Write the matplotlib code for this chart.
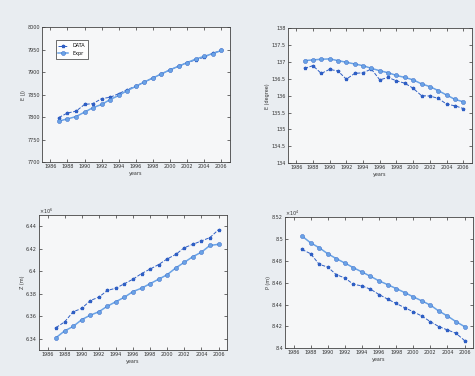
import matplotlib
matplotlib.use('Agg')
import matplotlib.pyplot as plt
from matplotlib.ticker import FuncFormatter

years = list(range(1987, 2007))
year_ticks = list(range(1986, 2007, 2))

# top left
e_data = [7799, 7809, 7813, 7828, 7830, 7841, 7844, 7852, 7861, 7869,
          7878, 7887, 7896, 7905, 7913, 7921, 7927, 7933, 7942, 7948]
e_expr = [7791, 7796, 7801, 7811, 7821, 7828, 7839, 7848, 7859, 7868,
          7878, 7887, 7896, 7905, 7913, 7921, 7929, 7935, 7941, 7948]

# top right
deg_expr = [137.04, 137.06, 137.08, 137.09, 137.04, 136.99, 136.94, 136.89, 136.81, 136.74,
            136.68, 136.60, 136.54, 136.47, 136.35, 136.27, 136.15, 136.02, 135.89, 135.82]
deg_data = [136.81, 136.89, 136.66, 136.78, 136.73, 136.49, 136.66, 136.68, 136.79, 136.47,
            136.54, 136.44, 136.37, 136.22, 136.00, 135.99, 135.92, 135.75, 135.70, 135.62]

# bottom left (x 1e6)
z_data = [6.350, 6.355, 6.364, 6.367, 6.374, 6.377, 6.383, 6.385, 6.389, 6.393,
          6.398, 6.402, 6.406, 6.411, 6.415, 6.421, 6.424, 6.427, 6.430, 6.437]
z_expr = [6.341, 6.347, 6.351, 6.357, 6.361, 6.364, 6.369, 6.373, 6.377, 6.382,
          6.385, 6.389, 6.393, 6.397, 6.403, 6.408, 6.413, 6.417, 6.423, 6.424]

# bottom right (x 1e4)
p_expr = [8.5027, 8.4966, 8.4921, 8.4866, 8.4821, 8.4781, 8.4738, 8.4699, 8.4659, 8.4617,
          8.4583, 8.4547, 8.4510, 8.4471, 8.4434, 8.4395, 8.4340, 8.4295, 8.4243, 8.4198]
p_data = [8.4905, 8.4866, 8.4769, 8.4744, 8.4674, 8.4644, 8.4586, 8.4571, 8.4541, 8.4492,
          8.4450, 8.4410, 8.4371, 8.4334, 8.4295, 8.4243, 8.4198, 8.4167, 8.4137, 8.4070]

dark = '#2f5fc4'
light = '#6aa3e6'
fs = 3.5

plt.rcParams['font.family'] = 'DejaVu Sans'
fig = plt.figure(figsize=(4.75, 3.76), dpi=100, facecolor='#e9edf1')

def style(ax, ylabel, yticks, ylim, fmt):
    ax.set_facecolor('#f6f7f8')
    ax.set_xlim(1985, 2007)
    ax.set_xticks(year_ticks)
    ax.set_ylim(*ylim)
    ax.set_yticks(yticks)
    ax.yaxis.set_major_formatter(FuncFormatter(fmt))
    ax.tick_params(direction='in', top=True, right=True, labelsize=fs,
                   length=2, width=0.5, colors='#333333', pad=1.5)
    ax.set_xlabel('years', fontsize=fs, labelpad=1, color='#333333')
    ax.set_ylabel(ylabel, fontsize=fs, labelpad=1, color='#333333')
    for s in ax.spines.values():
        s.set_linewidth(0.6)
        s.set_color('#444444')

def draw(ax, a, b):
    ax.plot(years, a, '--', color=dark, marker='*', ms=2.4, lw=0.7)
    ax.plot(years, b, '-', color=light, marker='o', ms=3.0, lw=1.1,
            mfc=light, mec=dark, mew=0.3)

ax1 = fig.add_axes([0.088, 0.569, 0.396, 0.359])
draw(ax1, e_data, e_expr)
style(ax1, 'E (J)', list(range(7700, 8001, 50)), (7700, 8000), lambda v, p: '%d' % v)
leg = ax1.legend(['DATA', 'Expr'], loc='upper left', fontsize=fs, frameon=True,
                 fancybox=False, edgecolor='black', borderpad=0.6,
                 handlelength=2, bbox_to_anchor=(0.06, 0.92))
leg.get_frame().set_linewidth(0.5)

ax2 = fig.add_axes([0.606, 0.566, 0.387, 0.359])
draw(ax2, deg_data, deg_expr)
style(ax2, 'E (degree)', [134 + 0.5 * i for i in range(9)], (134, 138), lambda v, p: '%g' % v)

ax3 = fig.add_axes([0.082, 0.069, 0.396, 0.359])
draw(ax3, z_data, z_expr)
style(ax3, 'Z (m)', [6.34, 6.36, 6.38, 6.40, 6.42, 6.44], (6.33, 6.45), lambda v, p: '%g' % round(v, 2))
ax3.text(0, 1.01, r'$\times10^6$', transform=ax3.transAxes, fontsize=fs, color='#333333')

ax4 = fig.add_axes([0.600, 0.074, 0.396, 0.348])
draw(ax4, p_data, p_expr)
style(ax4, 'P (m)', [8.40, 8.42, 8.44, 8.46, 8.48, 8.50, 8.52], (8.40, 8.52), lambda v, p: '%g' % round(v, 2))
ax4.text(0, 1.01, r'$\times10^4$', transform=ax4.transAxes, fontsize=fs, color='#333333')

fig.savefig('out.png', dpi=100, facecolor=fig.get_facecolor())
